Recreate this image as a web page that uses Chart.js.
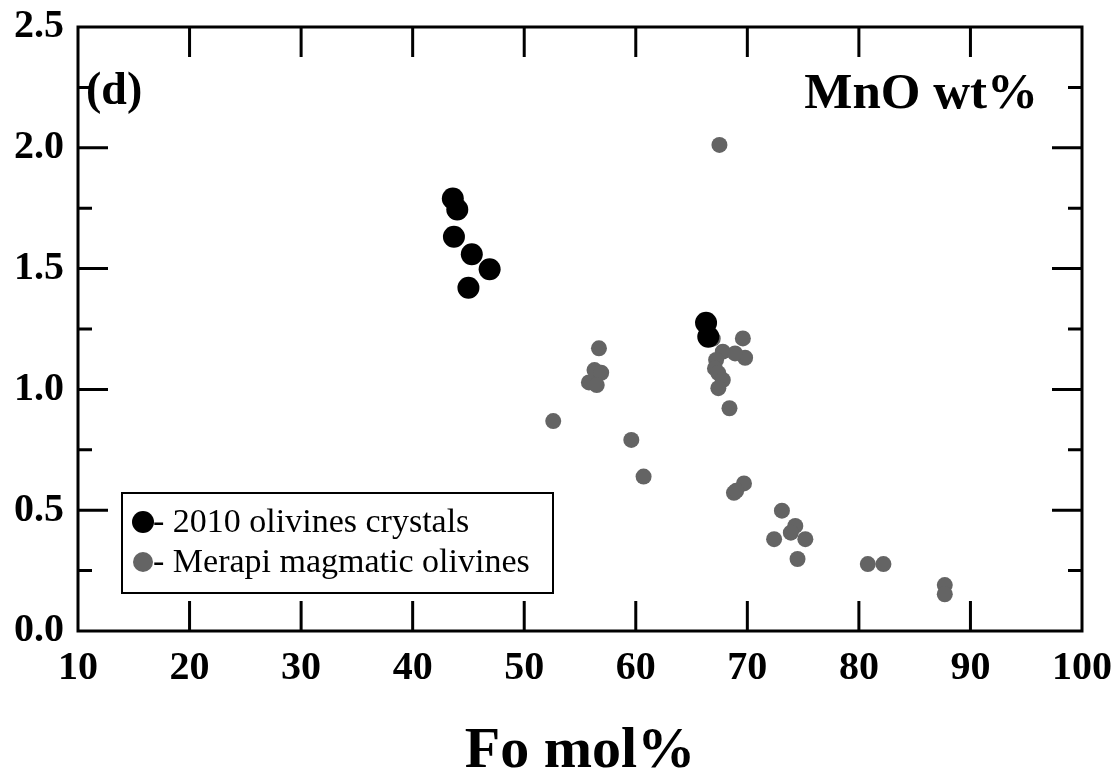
<!DOCTYPE html>
<html>
<head>
<meta charset="utf-8">
<script src="https://cdn.jsdelivr.net/npm/chart.js@4"></script>
<style>
  body { margin: 0; background: #fff; }
  #wrap { width: 1119px; height: 781px; }
</style>
</head>
<body>
<div id="wrap"><canvas id="olivineChart"></canvas></div>
<script>
// 2010 olivines (Fo mol%, MnO wt%)
const olv2010Fo  = [43.6, 44.0, 43.7, 45.3, 46.9, 45.0, 66.3, 66.5];
const olv2010MnO = [1.79, 1.745, 1.632, 1.559, 1.497, 1.421, 1.276, 1.218];

// Merapi magmatic olivines
const merapiFo  = [56.7, 56.3, 56.9, 55.8, 56.5, 52.6, 59.6, 60.7,
                   67.5, 66.9, 69.6, 69.8, 67.8, 68.9, 67.2, 67.1, 67.4, 67.8, 67.4, 68.4,
                   69.7, 68.8, 69.0, 73.1, 74.3, 73.9, 72.4, 75.2, 74.5,
                   80.8, 82.2, 87.7, 87.7];
const merapiMnO = [1.170, 1.080, 1.069, 1.029, 1.018, 0.869, 0.791, 0.639,
                   2.012, 1.21, 1.211, 1.131, 1.156, 1.149, 1.122, 1.087, 1.067, 1.039, 1.005, 0.922,
                   0.611, 0.572, 0.58, 0.498, 0.435, 0.407, 0.380, 0.380, 0.298,
                   0.277, 0.277, 0.190, 0.152];

const xTicks = [10, 20, 30, 40, 50, 60, 70, 80, 90, 100];
const yTicks = [0.0, 0.5, 1.0, 1.5, 2.0, 2.5];

const serif = '"Liberation Serif", "Times New Roman", serif';

const toPts = (xs, ys) => xs.map((x, i) => ({ x: x, y: ys[i] }));

// box, inward ticks, legend and panel labels
const framePlugin = {
    id: 'frame',
    afterDraw(chart) {
        const c = chart.ctx;
        const a = chart.chartArea;
        const xs = chart.scales.x, ys = chart.scales.y;
        c.save();
        c.strokeStyle = '#000';
        c.lineWidth = 3;
        c.strokeRect(a.left, a.top, a.right - a.left, a.bottom - a.top);

        c.beginPath();
        xs.ticks.forEach(t => {
            const px = xs.getPixelForValue(t.value);
            if (px <= a.left + 1 || px >= a.right - 1) return;
            c.moveTo(px, a.bottom); c.lineTo(px, a.bottom - 30);
            c.moveTo(px, a.top);    c.lineTo(px, a.top + 30);
        });
        ys.ticks.forEach(t => {
            const py = ys.getPixelForValue(t.value);
            if (py <= a.top + 1 || py >= a.bottom - 1) return;
            const len = yTicks.some(v => Math.abs(v - t.value) < 1e-6) ? 30 : 14;
            c.moveTo(a.left, py);  c.lineTo(a.left + len, py);
            c.moveTo(a.right, py); c.lineTo(a.right - len, py);
        });
        c.stroke();

        // panel labels
        c.fillStyle = '#000';
        c.font = 'bold 46px ' + serif;
        c.textAlign = 'left';
        c.textBaseline = 'alphabetic';
        c.fillText('(d)', a.left + 8, a.top + 77);
        c.font = 'bold 51px ' + serif;
        c.textAlign = 'right';
        c.fillText('MnO wt%', a.right - 44, a.top + 81);

        // legend
        const lx = 122, ly = 493, lw = 431, lh = 100;
        c.lineWidth = 2;
        c.strokeRect(lx, ly, lw, lh);
        c.font = '34px ' + serif;
        c.textAlign = 'left';
        c.textBaseline = 'middle';
        chart.data.datasets.forEach((ds, i) => {
            const cy = ly + 29 + i * 40;
            c.beginPath();
            c.fillStyle = ds.backgroundColor;
            c.arc(lx + 21, cy, i === 0 ? 11 : 10, 0, Math.PI * 2);
            c.fill();
            c.fillStyle = '#000';
            c.fillText('- ' + ds.label, lx + 31, cy + 1);
        });
        c.restore();
    }
};

const ctx = document.getElementById('olivineChart').getContext('2d');

const olivineChart = new Chart(ctx, {
    type: 'scatter',
    data: {
        datasets: [{
            label: '2010 olivines crystals',
            data: toPts(olv2010Fo, olv2010MnO),
            backgroundColor: '#000000',
            borderWidth: 0,
            pointRadius: 11,
            pointHoverRadius: 11
        }, {
            label: 'Merapi magmatic olivines',
            data: toPts(merapiFo, merapiMnO),
            backgroundColor: '#646464',
            borderWidth: 0,
            pointRadius: 8,
            pointHoverRadius: 8
        }]
    },
    options: {
        responsive: true,
        maintainAspectRatio: false,
        animation: false,
        layout: { padding: { top: 27, right: 37, left: 0, bottom: 0 } },
        plugins: {
            legend: { display: false },
            tooltip: { enabled: false }
        },
        scales: {
            x: {
                type: 'linear',
                min: 10,
                max: 100,
                afterFit: s => {
                    s.height = 150;
                    s.paddingLeft = 0;
                    s.paddingRight = 0;
                },
                grid: { display: false, drawTicks: false },
                border: { display: false },
                ticks: {
                    stepSize: 10,
                    padding: 14,
                    color: '#000',
                    font: { family: serif, size: 40, weight: 'bold' },
                    maxRotation: 0,
                    autoSkip: false
                },
                title: {
                    display: true,
                    text: 'Fo mol%',
                    color: '#000',
                    font: { family: serif, size: 58, weight: 'bold' },
                    padding: { top: 34, bottom: -6 }
                }
            },
            y: {
                min: 0,
                max: 2.5,
                afterFit: s => {
                    s.width = 78;
                    s.paddingTop = 0;
                    s.paddingBottom = 0;
                },
                grid: { display: false, drawTicks: false },
                border: { display: false },
                ticks: {
                    stepSize: 0.25,
                    padding: 14,
                    color: '#000',
                    font: { family: serif, size: 40, weight: 'bold' },
                    autoSkip: false,
                    callback: value => yTicks.some(v => Math.abs(v - value) < 1e-6) ? value.toFixed(1) : ''
                }
            }
        }
    },
    plugins: [framePlugin]
});
</script>
</body>
</html>
